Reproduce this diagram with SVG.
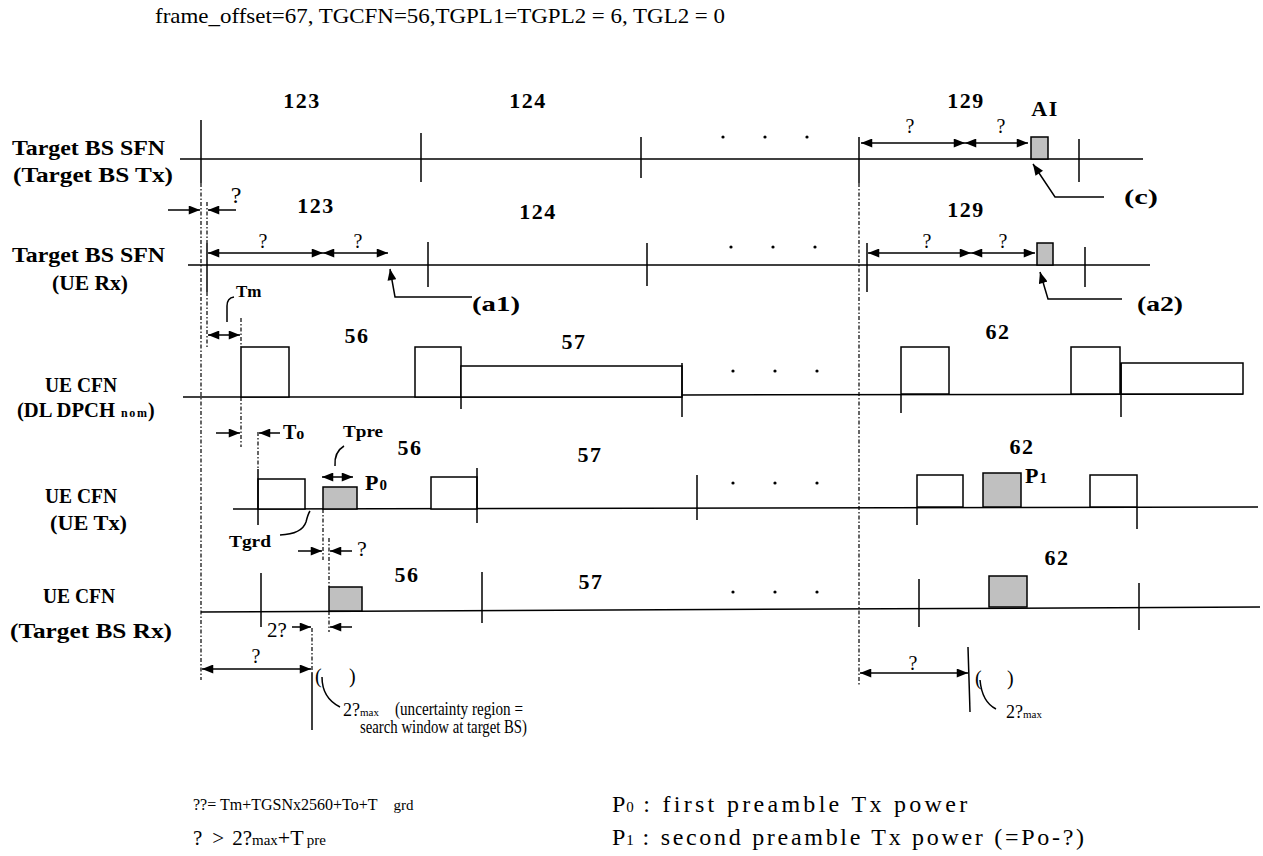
<svg xmlns="http://www.w3.org/2000/svg" width="1263" height="856" viewBox="0 0 1263 856">
<style>
text{font-family:"Liberation Serif",serif;fill:#000}
.lb{font-weight:bold;font-size:20px}
.num{font-weight:bold;font-size:22px;text-anchor:middle;letter-spacing:1.5px}
.q{font-size:20px;text-anchor:middle}
.r{font-size:18px}
.ln{stroke:#000;stroke-width:1.5;fill:none}
.dd{stroke:#000;stroke-width:1.2;stroke-dasharray:4 2 1.5 2;fill:none}
.box{fill:#fff;stroke:#000;stroke-width:1.5}
.g{fill:#c0c0c0;stroke:#000;stroke-width:1.5}
.a{stroke:#000;stroke-width:1.5;fill:none;marker-end:url(#ah)}
.a2{stroke:#000;stroke-width:1.5;fill:none;marker-end:url(#ah);marker-start:url(#ah)}
.dot{fill:#000}
</style>
<defs>
<marker id="ah" viewBox="0 0 10 8" refX="10" refY="4" markerWidth="12" markerHeight="9" markerUnits="userSpaceOnUse" orient="auto-start-reverse"><path d="M0,0 L10,4 L0,8 z" fill="#000"/></marker>
</defs>
<rect width="1263" height="856" fill="#fff"/>

<text x="155" y="23" style="font-size:21px" textLength="570" lengthAdjust="spacingAndGlyphs">frame_offset=67,  TGCFN=56,TGPL1=TGPL2 = 6,  TGL2 = 0</text>

<g id="labels">
<text class="lb" x="12" y="155" textLength="153" lengthAdjust="spacingAndGlyphs">Target BS SFN</text>
<text class="lb" x="13" y="182" textLength="160" lengthAdjust="spacingAndGlyphs">(Target BS Tx)</text>
<text class="lb" x="12" y="262" textLength="153" lengthAdjust="spacingAndGlyphs">Target BS SFN</text>
<text class="lb" x="52" y="290" textLength="76" lengthAdjust="spacingAndGlyphs">(UE Rx)</text>
<text class="lb" x="45" y="392" textLength="72" lengthAdjust="spacingAndGlyphs">UE CFN</text>
<text class="lb" x="17" y="417" textLength="98" lengthAdjust="spacingAndGlyphs">(DL DPCH</text>
<text class="lb" x="121" y="417" style="font-size:12px" textLength="26" lengthAdjust="spacing">nom</text>
<text class="lb" x="148" y="417">)</text>
<text class="lb" x="45" y="503" textLength="72" lengthAdjust="spacingAndGlyphs">UE CFN</text>
<text class="lb" x="50" y="530" textLength="77" lengthAdjust="spacingAndGlyphs">(UE Tx)</text>
<text class="lb" x="43" y="603" textLength="72" lengthAdjust="spacingAndGlyphs">UE CFN</text>
<text class="lb" x="10" y="638" textLength="162" lengthAdjust="spacingAndGlyphs">(Target BS Rx)</text>
</g>

<g id="row1">
<line class="ln" x1="180" y1="159" x2="1143" y2="159"/>
<line class="ln" x1="201" y1="120" x2="201" y2="183"/>
<line class="ln" x1="421" y1="133" x2="421" y2="182"/>
<line class="ln" x1="641" y1="137" x2="641" y2="178"/>
<line class="ln" x1="859" y1="137" x2="859" y2="183"/>
<line class="ln" x1="1079" y1="139" x2="1079" y2="182"/>
<rect class="g" x="1031" y="137" width="17" height="22"/>
<circle class="dot" cx="723" cy="137" r="1.6"/><circle class="dot" cx="765" cy="137" r="1.6"/><circle class="dot" cx="807" cy="137" r="1.6"/>
<text class="num" x="302" y="108">123</text>
<text class="num" x="528" y="108">124</text>
<text class="num" x="966" y="108">129</text>
<text class="num" x="1045" y="116">AI</text>
<text class="q" x="910" y="133">?</text>
<text class="q" x="1001" y="133">?</text>
<text class="lb" x="1124" y="204" style="font-size:22px" textLength="34" lengthAdjust="spacingAndGlyphs">(c)</text>
</g>

<g id="row2">
<line class="ln" x1="188" y1="265" x2="1150" y2="265"/>
<line class="ln" x1="207" y1="243" x2="207" y2="292"/>
<line class="ln" x1="428" y1="242" x2="428" y2="287"/>
<line class="ln" x1="647" y1="243" x2="647" y2="286"/>
<line class="ln" x1="867" y1="243" x2="867" y2="292"/>
<line class="ln" x1="1085" y1="247" x2="1085" y2="287"/>
<rect class="g" x="1037" y="243" width="16" height="22"/>
<circle class="dot" cx="731" cy="247" r="1.6"/><circle class="dot" cx="773" cy="247" r="1.6"/><circle class="dot" cx="815" cy="247" r="1.6"/>
<text class="num" x="316" y="213">123</text>
<text class="num" x="538" y="219">124</text>
<text class="num" x="966" y="217">129</text>
<text class="q" x="263" y="248">?</text>
<text class="q" x="358" y="248">?</text>
<text class="q" x="927" y="248">?</text>
<text class="q" x="1003" y="248">?</text>
<text x="236" y="203" style="font-size:24px" text-anchor="middle">?</text>
<text class="lb" x="472" y="311" style="font-size:22px" textLength="48" lengthAdjust="spacingAndGlyphs">(a1)</text>
<text class="lb" x="1137" y="311" style="font-size:22px" textLength="46" lengthAdjust="spacingAndGlyphs">(a2)</text>
<text class="lb" x="236" y="297" style="font-size:17px">Tm</text>
</g>

<g id="row3">
<line class="ln" x1="183" y1="397" x2="682" y2="397"/>
<line class="ln" x1="682" y1="395" x2="1243" y2="394"/>
<rect class="box" x="241" y="347" width="48" height="50"/>
<rect class="box" x="415" y="347" width="46" height="50"/>
<rect class="box" x="461" y="366" width="221" height="31"/>
<line class="ln" x1="461" y1="397" x2="461" y2="409"/>
<line class="ln" x1="682" y1="363" x2="682" y2="417"/>
<rect class="box" x="901" y="347" width="48" height="47"/>
<line class="ln" x1="901" y1="394" x2="901" y2="413"/>
<rect class="box" x="1071" y="347" width="49" height="47"/>
<rect class="box" x="1121" y="363" width="122" height="31"/>
<line class="ln" x1="1121" y1="363" x2="1121" y2="417"/>
<circle class="dot" cx="733" cy="371" r="1.6"/><circle class="dot" cx="775" cy="371" r="1.6"/><circle class="dot" cx="817" cy="371" r="1.6"/>
<text class="num" x="357" y="343">56</text>
<text class="num" x="574" y="349">57</text>
<text class="num" x="998" y="339">62</text>
<text class="lb" x="283" y="439" style="font-size:20px">T<tspan style="font-size:16px">o</tspan></text>
</g>

<g id="row4">
<line class="ln" x1="233" y1="509" x2="1258" y2="507"/>
<rect class="box" x="258" y="479" width="47" height="30"/>
<line class="ln" x1="258" y1="469" x2="258" y2="525"/>
<rect class="g" x="323" y="487" width="34" height="22"/>
<rect class="box" x="431" y="477" width="46" height="32"/>
<line class="ln" x1="477" y1="468" x2="477" y2="523"/>
<line class="ln" x1="697" y1="475" x2="697" y2="520"/>
<rect class="box" x="917" y="475" width="46" height="32"/>
<line class="ln" x1="917" y1="507" x2="917" y2="525"/>
<rect class="g" x="983" y="473" width="38" height="34"/>
<rect class="box" x="1090" y="475" width="47" height="32"/>
<line class="ln" x1="1137" y1="507" x2="1137" y2="529"/>
<circle class="dot" cx="733" cy="483" r="1.6"/><circle class="dot" cx="775" cy="483" r="1.6"/><circle class="dot" cx="817" cy="483" r="1.6"/>
<text class="num" x="410" y="455">56</text>
<text class="num" x="590" y="462">57</text>
<text class="num" x="1022" y="454">62</text>
<text class="lb" x="343" y="437" style="font-size:17px" textLength="40" lengthAdjust="spacingAndGlyphs">Tpre</text>
<text class="lb" x="229" y="547" style="font-size:17px" textLength="42" lengthAdjust="spacingAndGlyphs">Tgrd</text>
<text class="lb" x="365" y="490" style="font-size:22px">P<tspan dx="1" style="font-size:15px">0</tspan></text>
<text class="lb" x="1025" y="483" style="font-size:22px">P<tspan dx="1" style="font-size:15px">1</tspan></text>
<text x="357" y="556" style="font-size:22px">?</text>
</g>

<g id="row5">
<line class="ln" x1="201" y1="612" x2="1260" y2="607"/>
<line class="ln" x1="261" y1="573" x2="261" y2="627"/>
<rect class="g" x="329" y="587" width="33" height="24"/>
<line class="ln" x1="482" y1="572" x2="482" y2="623"/>
<line class="ln" x1="919" y1="579" x2="919" y2="627"/>
<rect class="g" x="989" y="576" width="38" height="31"/>
<line class="ln" x1="1139" y1="583" x2="1139" y2="630"/>
<circle class="dot" cx="733" cy="592" r="1.6"/><circle class="dot" cx="775" cy="592" r="1.6"/><circle class="dot" cx="817" cy="592" r="1.6"/>
<text class="num" x="407" y="582">56</text>
<text class="num" x="591" y="589">57</text>
<text class="num" x="1057" y="565">62</text>
<text x="267" y="637" style="font-size:21px">2?</text>
<text class="q" x="256" y="663">?</text>
<text class="q" x="913" y="670">?</text>
<text x="315" y="683" style="font-size:20px">(</text>
<text x="349" y="683" style="font-size:20px">)</text>
<text x="975" y="685" style="font-size:20px">(</text>
<text x="1007" y="685" style="font-size:20px">)</text>
<text x="343" y="716" style="font-size:18px">2?<tspan style="font-size:11px">max</tspan></text>
<text x="1006" y="718" style="font-size:18px">2?<tspan style="font-size:11px">max</tspan></text>
<text class="r" x="395" y="715" textLength="128" lengthAdjust="spacingAndGlyphs">(uncertainty region =</text>
<text class="r" x="360" y="733" textLength="167" lengthAdjust="spacingAndGlyphs">search window at target BS)</text>
</g>

<g id="connectors">
<line class="dd" x1="201" y1="183" x2="201" y2="680"/>
<line class="dd" x1="859" y1="183" x2="859" y2="686"/>
<line class="dd" x1="207" y1="202" x2="207" y2="243"/>
<line class="dd" x1="207" y1="292" x2="207" y2="347"/>
<line class="dd" x1="241" y1="318" x2="241" y2="347"/>
<line class="dd" x1="241" y1="397" x2="241" y2="447"/>
<line class="dd" x1="258" y1="432" x2="258" y2="469"/>
<line class="dd" x1="323" y1="509" x2="323" y2="560"/>
<line class="dd" x1="329" y1="538" x2="329" y2="587"/>
<line class="dd" x1="329" y1="611" x2="329" y2="632"/>
<line class="dd" x1="312" y1="628" x2="312" y2="673"/>
<line class="ln" x1="312" y1="673" x2="312" y2="730"/>
<line class="ln" x1="968" y1="647" x2="970" y2="712"/>
<line class="a2" x1="861" y1="143" x2="965" y2="143"/>
<line class="a2" x1="965" y1="143" x2="1028" y2="143"/>
<line class="a" x1="168" y1="210" x2="200" y2="210"/>
<line class="a" x1="236" y1="210" x2="208" y2="210"/>
<line class="a2" x1="208" y1="253" x2="323" y2="253"/>
<line class="a2" x1="323" y1="253" x2="388" y2="253"/>
<line class="a2" x1="868" y1="253" x2="971" y2="253"/>
<line class="a2" x1="971" y1="253" x2="1035" y2="253"/>
<path class="a" d="M1104,197 L1055,197 L1033,164"/>
<path class="a" d="M1122,299 L1048,299 L1040,272"/>
<path class="a" d="M472,297 L395,297 L390,269"/>
<path class="ln" d="M227,322 L227,306 Q227,298 234,297"/>
<line class="a2" x1="208" y1="335" x2="240" y2="335"/>
<line class="a" x1="216" y1="433" x2="240" y2="433"/>
<line class="a" x1="280" y1="433" x2="259" y2="433"/>
<path class="ln" d="M335,466 Q334,452 344,446"/>
<line class="a2" x1="322" y1="477" x2="353" y2="477"/>
<path class="ln" d="M280,535 Q302,534 306,522 Q308,514 310,511"/>
<line class="a" x1="298" y1="551" x2="322" y2="551"/>
<line class="a" x1="352" y1="551" x2="330" y2="551"/>
<line class="a" x1="292" y1="627" x2="311" y2="627"/>
<line class="a" x1="352" y1="627" x2="330" y2="627"/>
<line class="a2" x1="202" y1="669" x2="311" y2="669"/>
<line class="a2" x1="860" y1="673" x2="968" y2="673"/>
<path class="ln" d="M322,677 Q322,698 340,707"/>
<path class="ln" d="M980,680 Q982,702 996,709"/>
</g>

<g id="notes">
<text x="193" y="810" style="font-size:16px">??= Tm+TGSNx2560+To+T<tspan dx="16" style="font-size:15px">grd</tspan></text>
<text x="193" y="845" style="font-size:21px">?<tspan dx="10">&gt;</tspan><tspan dx="8">2?</tspan><tspan style="font-size:15px">max</tspan><tspan style="font-size:22px">+T</tspan><tspan dx="3" style="font-size:15px">pre</tspan></text>
<text x="612" y="812" style="font-size:24px">P<tspan dx="1" style="font-size:15px">0</tspan><tspan style="font-size:24px;letter-spacing:3.3px"> : first preamble Tx power</tspan></text>
<text x="612" y="845" style="font-size:24px">P<tspan dx="1" style="font-size:15px">1</tspan><tspan style="font-size:24px;letter-spacing:2.7px"> : second preamble Tx power (=Po-?)</tspan></text>
</g>
</svg>
